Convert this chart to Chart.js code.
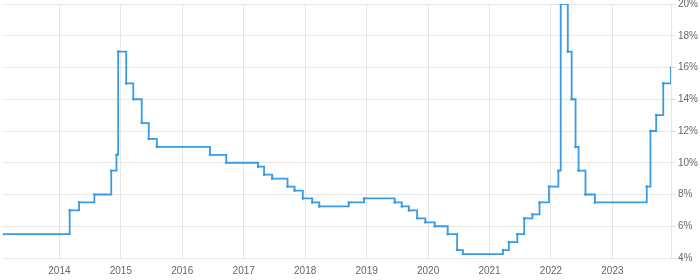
<!DOCTYPE html>
<html lang="ru">
<head>
  <meta charset="UTF-8">
  <title>Ключевая ставка</title>
  <style>
    html, body {
      margin: 0;
      padding: 0;
      background: #fff;
    }
    #chart-container {
      width: 700px;
      height: 280px;
    }
  </style>
  <script src="https://cdn.jsdelivr.net/npm/chart.js"></script>
</head>
<body>
  <div id="chart-container">
    <canvas id="rateChart"></canvas>
  </div>

  <script>
    // даты изменения ставки и значения (%)
    const dates = [
      "2013-01-31", "2014-03-03", "2014-04-28", "2014-07-28", "2014-11-05", "2014-12-06", "2014-12-16",
      "2015-02-02", "2015-03-16", "2015-05-05", "2015-06-16", "2015-08-03",
      "2016-06-14", "2016-09-19",
      "2017-03-27", "2017-05-02", "2017-06-19", "2017-09-18", "2017-10-30", "2017-12-18",
      "2018-02-12", "2018-03-26", "2018-09-17", "2018-12-17",
      "2019-06-17", "2019-07-29", "2019-09-09", "2019-10-28", "2019-12-16",
      "2020-02-10", "2020-04-27", "2020-06-22", "2020-07-27",
      "2021-03-22", "2021-04-26", "2021-06-15", "2021-07-26", "2021-09-13", "2021-10-25", "2021-12-20",
      "2022-02-14", "2022-02-28", "2022-04-11", "2022-05-04", "2022-05-27", "2022-06-14", "2022-07-25", "2022-09-19",
      "2023-07-24", "2023-08-15", "2023-09-18", "2023-10-30", "2023-12-15"
    ];
    const rates = [
      5.5, 7, 7.5, 8, 9.5, 10.5, 17,
      15, 14, 12.5, 11.5, 11,
      10.5, 10,
      9.75, 9.25, 9, 8.5, 8.25, 7.75,
      7.5, 7.25, 7.5, 7.75,
      7.5, 7.25, 7, 6.5, 6.25,
      6, 5.5, 4.5, 4.25,
      4.5, 5, 5.5, 6.5, 6.75, 7.5, 8.5,
      9.5, 20, 17, 14, 11, 9.5, 8, 7.5,
      8.5, 12, 13, 15, 16
    ];
    const yearTicks = [2014, 2015, 2016, 2017, 2018, 2019, 2020, 2021, 2022, 2023];
    const percentTicks = [4, 6, 8, 10, 12, 14, 16, 18, 20];

    // дата -> дробный год
    function toYear(s) {
      const [y, m, d] = s.split("-").map(Number);
      const start = Date.UTC(y, 0, 1);
      const end = Date.UTC(y + 1, 0, 1);
      return y + (Date.UTC(y, m - 1, d) - start) / (end - start);
    }

    const points = dates.map((d, i) => ({ x: toYear(d), y: rates[i] }));

    const ctx = document.getElementById("rateChart").getContext("2d");
    new Chart(ctx, {
      type: 'line',
      data: {
        datasets: [{
          data: points,
          stepped: 'before',
          borderColor: '#3a9ae2',
          backgroundColor: '#3a9ae2',
          borderWidth: 1.8,
          pointRadius: 1.3,
          pointBorderWidth: 0,
          pointHoverRadius: 3,
          fill: false
        }]
      },
      options: {
        responsive: true,
        maintainAspectRatio: false,
        animation: false,
        layout: {
          padding: { left: 2, top: 0, right: 0, bottom: 0 }
        },
        plugins: {
          legend: { display: false },
          tooltip: { enabled: false }
        },
        scales: {
          x: {
            type: 'linear',
            min: points[0].x,
            max: points[points.length - 1].x,
            grid: {
              color: '#e6e6e6',
              drawTicks: false
            },
            border: { display: false },
            afterBuildTicks: (scale) => {
              scale.ticks = yearTicks.map(v => ({ value: v }));
            },
            afterFit: (scale) => { scale.height = 22; },
            ticks: {
              color: '#666',
              padding: 7,
              maxRotation: 0,
              font: { family: "'Liberation Sans', Arial, sans-serif", size: 10 },
              callback: (v) => String(v)
            }
          },
          y: {
            position: 'right',
            min: 4,
            max: 20,
            grid: {
              color: '#e6e6e6',
              tickLength: 5
            },
            border: { display: true, color: '#e6e6e6' },
            afterBuildTicks: (scale) => {
              scale.ticks = percentTicks.map(v => ({ value: v }));
            },
            afterFit: (scale) => {
              scale.width = 29;
              scale.paddingTop = 4;
              scale.paddingBottom = 0;
            },
            ticks: {
              color: '#666',
              padding: 2,
              font: { family: "'Liberation Sans', Arial, sans-serif", size: 10 },
              callback: (v) => v + '%'
            }
          }
        }
      }
    });
  </script>
</body>
</html>
